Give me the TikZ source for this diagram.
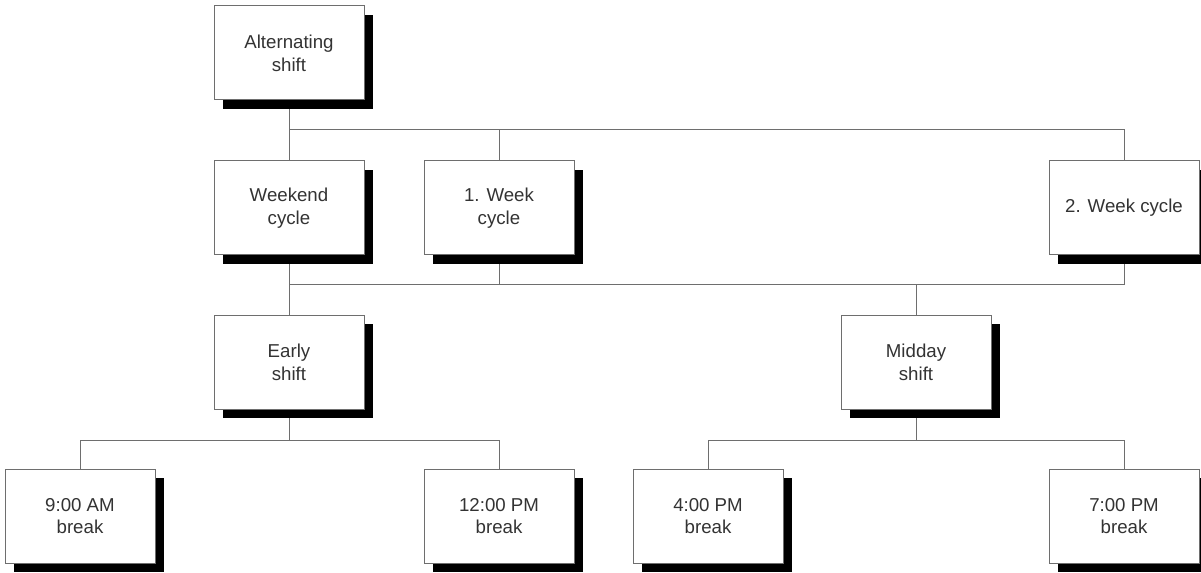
\documentclass[tikz,border=0pt]{standalone}
\usepackage{fontspec}
\setmainfont{Liberation Sans}
\usepackage{xcolor}
\usetikzlibrary{shadows,backgrounds}
\definecolor{cEdge}{HTML}{6E6E6E}
\definecolor{cText}{HTML}{333333}

\begin{document}
\begin{tikzpicture}[
  x=0.75pt, y=-0.75pt,
  shiftbox/.style={
    draw=cEdge, line width=0.75pt, fill=white,
    minimum width=112.5pt, minimum height=70.5pt,
    align=center, text=cText,
    font=\fontsize{14pt}{17pt}\selectfont,
    drop shadow={shadow xshift=7pt, shadow yshift=-7pt, fill=black, opacity=1},
  },
  link/.style={draw=cEdge, line width=0.75pt},
]
\useasboundingbox (0,0) rectangle (1201,573);

% ─── LEVELS ───
\node[shiftbox] (alt)     at (289,53)   {Alternating\\shift};
\node[shiftbox] (weekend) at (289,208)  {Weekend\\cycle};
\node[shiftbox] (week1)   at (499,208)  {1. Week\\cycle};
\node[shiftbox] (week2)   at (1124,208) {2. Week cycle};
\node[shiftbox] (early)   at (289,362)  {Early\\shift};
\node[shiftbox] (midday)  at (916,362)  {Midday\\shift};
\node[shiftbox] (b9)      at (80,516)   {9:00 AM\\break};
\node[shiftbox] (b12)     at (499,516)  {12:00 PM\\break};
\node[shiftbox] (b4)      at (708,516)  {4:00 PM\\break};
\node[shiftbox] (b7)      at (1124,516) {7:00 PM\\break};

% ─── BUS LINES ───
\coordinate (busA) at (0,130);
\coordinate (busB) at (0,285);
\coordinate (busC) at (0,440);

\begin{scope}[on background layer]
  % alternating shift -> cycles
  \draw[link] (alt.south) -- (alt |- busA);
  \draw[link] (weekend.north) -- (weekend |- busA) -| (week2.north);
  \draw[link] (week1.north) -- (week1 |- busA);
  % cycles -> shifts
  \draw[link] (weekend.south) -- (early.north);
  \draw[link] (weekend |- busB) -| (week2.south);
  \draw[link] (week1.south) -- (week1 |- busB);
  \draw[link] (midday.north) -- (midday |- busB);
  % shifts -> breaks
  \draw[link] (early.south) -- (early |- busC);
  \draw[link] (b9.north) -- (b9 |- busC) -| (b12.north);
  \draw[link] (midday.south) -- (midday |- busC);
  \draw[link] (b4.north) -- (b4 |- busC) -| (b7.north);
\end{scope}

\end{tikzpicture}
\end{document}
